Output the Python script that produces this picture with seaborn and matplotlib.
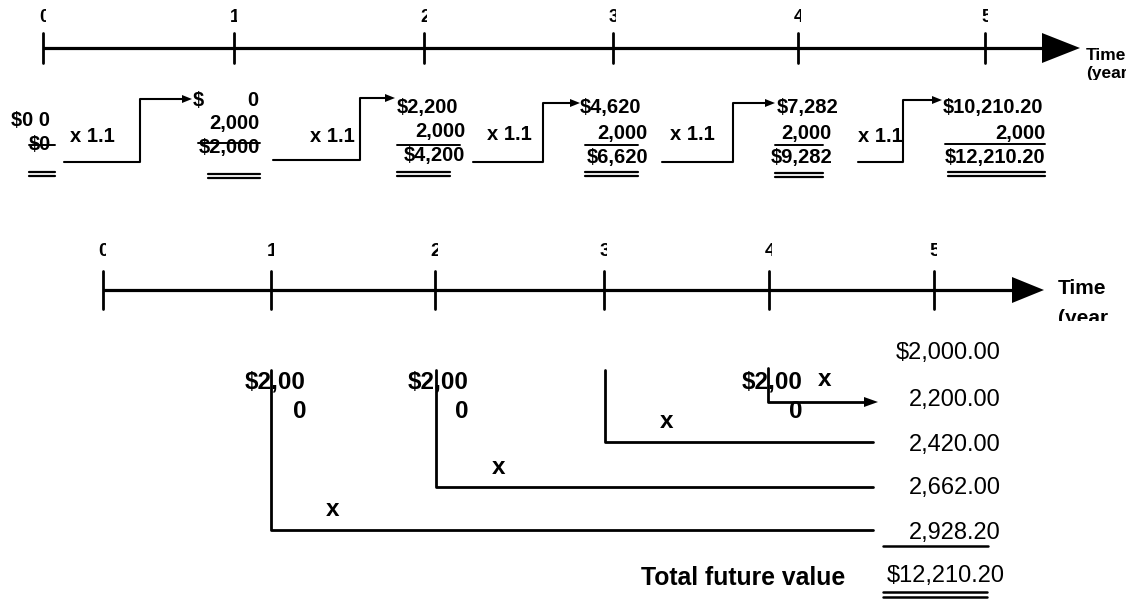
import matplotlib.pyplot as plt
import seaborn as sns
from matplotlib.patches import Polygon, Rectangle

# ---- data ----
years = [0, 1, 2, 3, 4, 5]
growth_label = "x 1.1"
deposit = 2000
carried_in = [0, 0, 2200, 4620, 7282, 10210.20]
closing = [0, 2000, 4200, 6620, 9282, 12210.20]
future_values = [2000.00, 2200.00, 2420.00, 2662.00, 2928.20]
total_future_value = 12210.20
axis_label = ["Time", "(year"]
total_label = "Total future value"


def money(v):
    return f"${v:,.2f}" if v % 1 else f"${v:,.0f}"


sns.set_theme(style="white")
plt.rcParams['font.family'] = ['Liberation Sans', 'DejaVu Sans']
plt.rcParams['text.color'] = 'black'

fig = plt.figure(figsize=(11.26, 6), dpi=100)
ax = fig.add_axes([0, 0, 1, 1])
ax.set_xlim(0, 1126)
ax.set_ylim(600, 0)
ax.axis('off')


def head(x_tip, y, length, half):
    ax.add_patch(Polygon([(x_tip, y), (x_tip - length, y - half), (x_tip - length, y + half)],
                         closed=True, color='black', lw=0))


def clipped_text(x, y, s, box, **kw):
    t = ax.text(x, y, s, clip_on=True, **kw)
    t.set_clip_path(Rectangle((box[0], box[1]), box[2], box[3], transform=ax.transData))
    return t


def timeline(ticks, y, tick_half, x_end, head_len, head_half, lab_y, fs, time_x, time_y, year_y, year_clip, tfs):
    ax.plot([ticks[0], x_end], [y, y], color='black', lw=2.3, solid_capstyle='butt')
    head(x_end + head_len, y, head_len, head_half)
    for tx, yr in zip(ticks, years):
        ax.plot([tx, tx], [y - tick_half, y + tick_half], color='black', lw=2.0)
        clipped_text(tx + 1, lab_y, str(yr), (tx - 12, lab_y - 15, 15, 30),
                     ha='center', va='center', fontsize=fs, fontweight='bold')
    ax.text(time_x, time_y, axis_label[0], ha='left', va='center', fontsize=tfs, fontweight='bold')
    clipped_text(time_x, year_y, axis_label[1], (time_x - 5, year_y - 5, 100, year_clip - year_y + 5),
                 ha='left', va='top', fontsize=tfs, fontweight='bold')


# ---- top diagram ----
top_ticks = [43, 234, 424, 613, 798, 985]
timeline(top_ticks, 48, 15, 1042, 38, 15, 17, 13, 1086, 56, 66, 80, 12.5)

col_right = [51, 260, 465, 648, 832, 1045]
col_first_left = [None, 193, 397, 580, 777, 943]
y_first = [121, 100, 108, 108, 108, 108]
y_dep = [None, 123, 131, 133, 133, 133]
y_total = [145, 148, 155, 157, 157, 157]
sum_line = [(29, 55, 145), (198, 260, 143), (397, 460, 145), (585, 638, 145), (775, 823, 145), (945, 1045, 144)]
dbl_line = [(29, 55, 172), (208, 260, 174), (397, 450, 172), (585, 638, 172), (775, 823, 173), (948, 1045, 172)]
connectors = [(64, 140, 162, 99, 192), (273, 360, 160, 98, 395), (473, 543, 162, 103, 580),
              (662, 733, 162, 103, 775), (858, 903, 162, 100, 942)]
x_label = [(70, 137), (310, 137), (487, 135), (670, 135), (858, 137)]

bold14 = dict(fontsize=14.5, fontweight='bold')
for i in range(len(years)):
    if i == 0:
        ax.text(col_right[0] - 1, y_first[0], money(carried_in[0]) + " 0", ha='right', va='center', **bold14)
    elif i == 1:
        ax.text(col_first_left[1], y_first[1], "$", ha='left', va='center', **bold14)
        ax.text(col_right[1] - 2, y_first[1], money(carried_in[1])[1:], ha='right', va='center', **bold14)
    else:
        ax.text(col_first_left[i], y_first[i], money(carried_in[i]), ha='left', va='center', **bold14)
    if y_dep[i] is not None:
        ax.text(col_right[i], y_dep[i], f"{deposit:,}", ha='right', va='center', **bold14)
    ax.text(col_right[i], y_total[i], money(closing[i]), ha='right', va='center', **bold14)
    x0, x1, yl = sum_line[i]
    ax.plot([x0, x1], [yl, yl], color='black', lw=1.4)
    x0, x1, yl = dbl_line[i]
    ax.plot([x0, x1], [yl, yl], color='black', lw=1.6)
    ax.plot([x0, x1], [yl + 4, yl + 4], color='black', lw=1.6)

for (xa, xb, ylo, yhi, xt), (lx, ly) in zip(connectors, x_label):
    ax.plot([xa, xb, xb, xt - 8], [ylo, ylo, yhi, yhi], color='black', lw=1.5)
    head(xt, yhi, 10, 4)
    ax.text(lx, ly, growth_label, ha='left', va='center', **bold14)

# ---- bottom diagram ----
bot_ticks = [103, 271, 435, 604, 769, 934]
timeline(bot_ticks, 290, 19, 1012, 32, 13, 252, 14, 1058, 288, 309, 321, 15)

val_right = 1001
val_y = [353, 400, 445, 488, 533]
for k, v in enumerate(future_values):
    s = f"${v:,.2f}" if k == 0 else f"{v:,.2f}"
    ax.text(val_right, val_y[k], s, ha='right', va='center', fontsize=17)
ax.plot([883, 988], [546, 546], color='black', lw=1.8)
ax.text(val_right + 4, 576, f"${total_future_value:,.2f}", ha='right', va='center', fontsize=17)
ax.plot([883, 987], [592, 592], color='black', lw=1.8)
ax.plot([883, 987], [597, 597], color='black', lw=1.8)
ax.text(845, 578, total_label, ha='right', va='center', fontsize=17.8, fontweight='bold')

# brackets carrying each deposit forward to year 5
dep_text = f"${deposit:,}"
bracket_x = [271, 436, 605, 768]
bracket_top = [370, 370, 370, 368]
bracket_y = [530, 487, 442, 402]
dep_right = [306, 469, None, 803]
x_pos = [(333, 509), (499, 467), (667, 422), (825, 380)]
bold17 = dict(fontsize=17.5, fontweight='bold')
for k in range(4):
    bx, by = bracket_x[k], bracket_y[k]
    x_end = 866 if k == 3 else 873
    ax.plot([bx, bx, x_end], [bracket_top[k], by, by], color='black', lw=2.0)
    if k == 3:
        head(878, by, 14, 5)
    if dep_right[k] is not None:
        ax.text(dep_right[k], 382, dep_text[:-1], ha='right', va='center', **bold17)
        ax.text(dep_right[k], 412, dep_text[-1], ha='right', va='center', **bold17)
    ax.text(x_pos[k][0], x_pos[k][1], "x", ha='center', va='center', **bold17)

fig.savefig("out.png", dpi=100)
